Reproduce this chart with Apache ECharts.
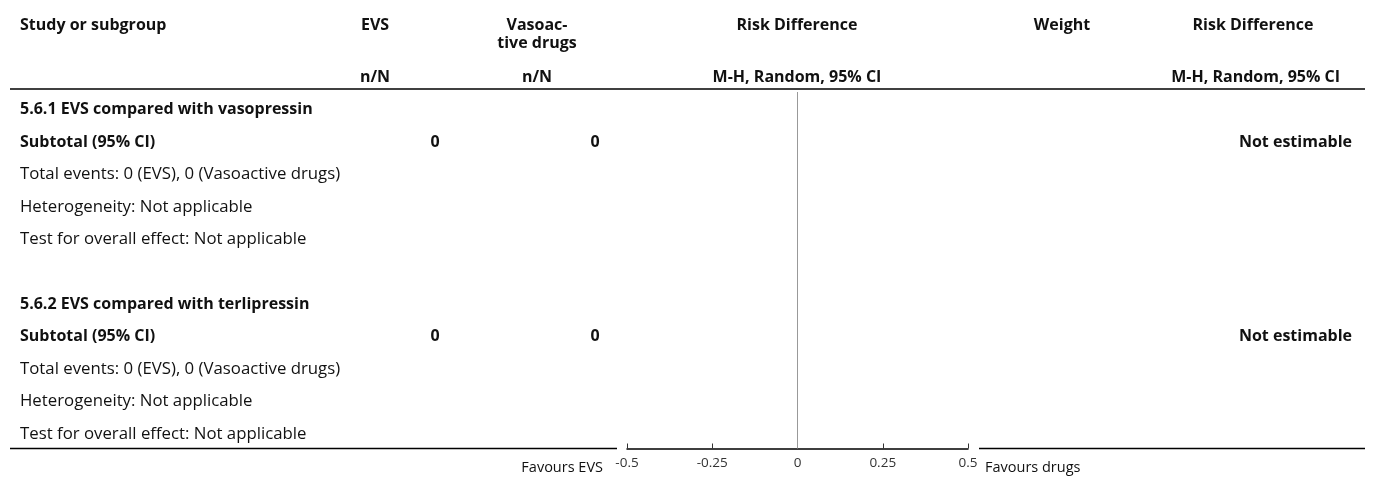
<!DOCTYPE html>
<html>
<head>
<meta charset="utf-8">
<script src="https://cdn.jsdelivr.net/npm/echarts@6/dist/echarts.min.js"></script>
<style>
  html, body { margin: 0; padding: 0; background: #fff; }
  #chart { width: 1375px; height: 478px; }
</style>
</head>
<body>
<div id="chart"></div>
<script>
// Forest plot rows: Risk Difference, EVS vs vasoactive drugs (analysis 5.6)
const rowLabels = [
  '5.6.1 EVS compared with vasopressin',
  'Subtotal (95% CI)',
  'Total events: 0 (EVS), 0 (Vasoactive drugs)',
  'Heterogeneity: Not applicable',
  'Test for overall effect: Not applicable',
  '',
  '5.6.2 EVS compared with terlipressin',
  'Subtotal (95% CI)',
  'Total events: 0 (EVS), 0 (Vasoactive drugs)',
  'Heterogeneity: Not applicable',
  'Test for overall effect: Not applicable'
];
const rowBold = [true, true, false, false, false, false, true, true, false, false, false];
const evsCounts = ['', '0', '', '', '', '', '', '0', '', '', ''];
const drugCounts = ['', '0', '', '', '', '', '', '0', '', '', ''];
const weights = ['', '', '', '', '', '', '', '', '', '', ''];
const effectText = ['', 'Not estimable', '', '', '', '', '', 'Not estimable', '', '', ''];
const xTicks = [-0.5, -0.25, 0, 0.25, 0.5];
const favourLeft = 'Favours EVS';
const favourRight = 'Favours drugs';

const FONT = '"Open Sans", "Noto Sans", sans-serif';
const AXIS_FONT = '"Open Sans", "Noto Sans", sans-serif';
const INK = '#111';
const BOLD_SIZE = 16;
const REG_SIZE = 16.8;
const TEXT_DY = 1.5;

// column anchors of the table
const COL = { study: 20, evs: 435, drugs: 595, weight: 1062, effect: 1352 };

const chart = echarts.init(document.getElementById('chart'), null, { renderer: 'canvas' });

function txt(text, x, y, align, bold, size, font) {
  return {
    type: 'text', x: x, y: y, silent: true,
    style: {
      text: text, fill: INK, align: align, verticalAlign: 'middle',
      font: (bold ? 'bold ' : '') + (size || (bold ? BOLD_SIZE : REG_SIZE)) + 'px ' + (font || FONT)
    }
  };
}

const headerGraphics = [
  txt('Study or subgroup', COL.study, 25, 'left', true),
  txt('EVS', 375, 25, 'center', true),
  txt('n/N', 375, 77, 'center', true),
  txt('Vasoac-', 537, 25, 'center', true),
  txt('tive drugs', 537, 43, 'center', true),
  txt('n/N', 537, 77, 'center', true),
  txt('Risk Difference', 797, 25, 'center', true),
  txt('M-H, Random, 95% CI', 797, 77, 'center', true),
  txt('Weight', COL.weight, 25, 'center', true),
  txt('Risk Difference', 1253, 25, 'center', true),
  txt('M-H, Random, 95% CI', 1340, 77, 'right', true),
  { type: 'line', silent: true, shape: { x1: 10, y1: 89, x2: 1365, y2: 89 },
    style: { stroke: '#000', lineWidth: 1.5 } },
  { type: 'line', silent: true, shape: { x1: 10, y1: 448.5, x2: 617, y2: 448.5 },
    style: { stroke: '#000', lineWidth: 1.5 } },
  { type: 'line', silent: true, shape: { x1: 979, y1: 448.5, x2: 1365, y2: 448.5 },
    style: { stroke: '#000', lineWidth: 1.5 } },
  txt(favourLeft, 603, 468, 'right', false, 14.5, AXIS_FONT),
  txt(favourRight, 985, 468, 'left', false, 14.5, AXIS_FONT)
];

const rowData = rowLabels.map((label, i) => [0, i + 0.5, i]);

const option = {
  backgroundColor: '#fff',
  animation: false,
  grid: { left: 627, right: 407, top: 92, bottom: 29.5, containLabel: false },
  xAxis: {
    type: 'value', min: xTicks[0], max: xTicks[xTicks.length - 1], interval: 0.25,
    axisLine: { show: true, onZero: false, lineStyle: { color: '#000', width: 1.5 } },
    axisTick: { show: true, inside: true, length: 5, lineStyle: { color: '#333' } },
    axisLabel: { color: '#333', fontSize: 13.5, fontFamily: AXIS_FONT, margin: 8,
      formatter: v => String(v) },
    splitLine: { show: false }
  },
  yAxis: {
    type: 'value', min: 0, max: rowLabels.length, inverse: true, show: false
  },
  series: [{
    type: 'custom',
    data: rowData,
    encode: { x: 0, y: 1 },
    clip: false,
    renderItem: function (params, api) {
      const i = api.value(2);
      const y = api.coord([0, api.value(1)])[1] + TEXT_DY;
      const bold = rowBold[i];
      const children = [];
      if (rowLabels[i]) children.push(txt(rowLabels[i], COL.study, y, 'left', bold));
      if (evsCounts[i]) children.push(txt(evsCounts[i], COL.evs, y, 'center', true));
      if (drugCounts[i]) children.push(txt(drugCounts[i], COL.drugs, y, 'center', true));
      if (weights[i]) children.push(txt(weights[i], COL.weight, y, 'center', true));
      if (effectText[i]) children.push(txt(effectText[i], COL.effect, y, 'right', true));
      return { type: 'group', children: children };
    },
    markLine: {
      silent: true, symbol: 'none', label: { show: false },
      lineStyle: { color: '#999', width: 1, type: 'solid' },
      data: [{ xAxis: 0 }]
    }
  }],
  graphic: headerGraphics
};

chart.setOption(option);
</script>
</body>
</html>
